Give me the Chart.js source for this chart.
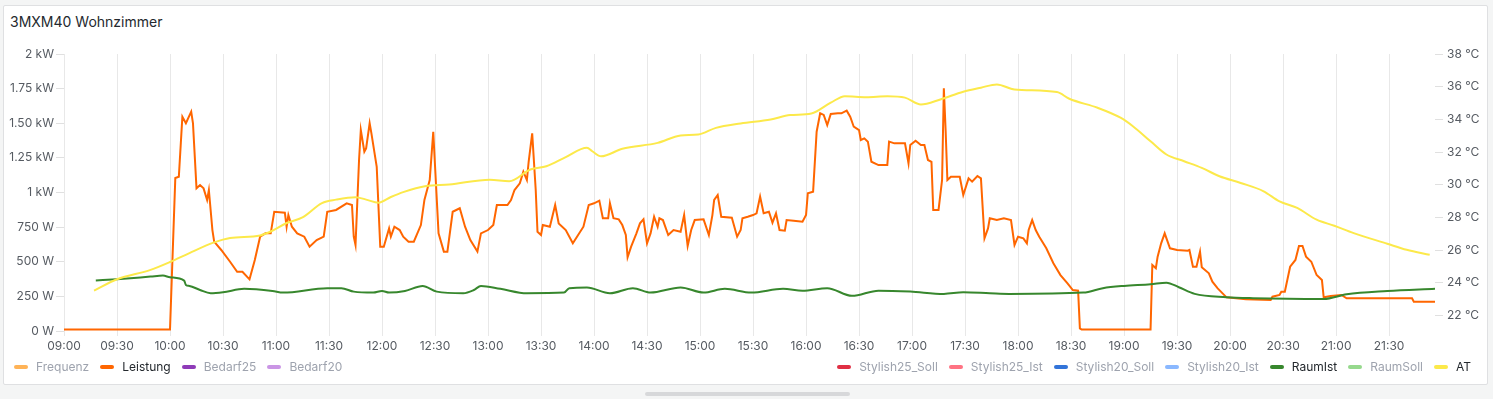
<!DOCTYPE html>
<html>
<head>
<meta charset="utf-8">
<title>3MXM40 Wohnzimmer</title>
<script src="https://cdn.jsdelivr.net/npm/chart.js@4"></script>
<style>
  body { margin: 0; width: 1493px; height: 399px; overflow: hidden; position: relative; background: #f4f5f5; font-family: Inter, "Noto Sans", sans-serif; }
  .panel { position: absolute; left: 3px; top: 5px; width: 1483px; height: 378px; background: #fff; border: 1px solid #dfe0e2; border-radius: 2px; }
  .title { position: absolute; left: 10px; top: 13px; font-size: 14px; font-weight: 400; color: #24292e; }
  #wrap { position: absolute; left: 0; top: 0; }
  #legend { position: absolute; left: 14px; right: 22px; top: 359px; display: flex; justify-content: space-between; font-size: 12px; line-height: 16px; }
  .grp { display: flex; }
  .item { display: flex; align-items: center; margin-right: 11px; color: #24292e; }
  .grp:last-child .item:last-child { margin-right: 0; }
  .item.off { color: #9ea3ae; }
  .bar { width: 14px; height: 4px; border-radius: 2px; margin-right: 8px; }
  .scroll { position: absolute; left: 645px; top: 392px; width: 205px; height: 4px; border-radius: 2px; background: #d7d8da; }
</style>
</head>
<body>
<div class="panel"></div>
<div class="title">3MXM40 Wohnzimmer</div>
<div id="wrap"><canvas id="chart" width="1493" height="399"></canvas></div>
<div id="legend"></div>
<div class="scroll"></div>
<script>
// series shown in the legend (left group first, then right group)
var leftNames = ['Frequenz', 'Leistung', 'Bedarf25', 'Bedarf20'];
var rightNames = ['Stylish25_Soll', 'Stylish25_Ist', 'Stylish20_Soll', 'Stylish20_Ist', 'RaumIst', 'RaumSoll', 'AT'];

// Leistung in W  [time, value]
var leistung = [
  ['09:00',10],['10:00',10],['10:03',1105],['10:05',1114],['10:07',1547],['10:09',1500],['10:12',1584],['10:13',1500],
  ['10:15',1030],['10:17',1054],['10:19',1030],['10:21',946],['10:22',1018],['10:24',729],['10:25',645],['10:29',585],
  ['10:34',500],['10:38',428],['10:41',428],['10:45',373],['10:48',513],['10:51',681],['10:54',705],['10:57',705],
  ['10:59',861],['11:05',854],['11:06',753],['11:07',837],['11:09',753],['11:12',705],['11:16',681],['11:19',609],
  ['11:23',657],['11:27',681],['11:29',861],['11:34',874],['11:40',922],['11:43',910],['11:44',681],['11:45',621],
  ['11:47',1235],['11:48',1451],['11:50',1295],['11:51',1319],['11:53',1500],['11:54',1427],['11:57',1186],['11:59',609],
  ['12:01',609],['12:04',741],['12:05',681],['12:07',753],['12:10',729],['12:12',681],['12:15',645],['12:18',645],
  ['12:20',705],['12:22',765],['12:24',946],['12:27',1090],['12:29',1439],['12:32',705],['12:35',573],['12:37',573],
  ['12:40',861],['12:44',886],['12:47',753],['12:50',657],['12:54',573],['12:56',705],['13:00',729],['13:03',765],
  ['13:05',910],['13:11',910],['13:13',946],['13:15',1018],['13:18',1066],['13:20',1150],['13:22',1090],['13:23',1222],
  ['13:25',1427],['13:27',1018],['13:28',717],['13:30',693],['13:31',765],['13:35',753],['13:38',910],['13:40',777],
  ['13:44',729],['13:48',633],['13:51',693],['13:54',753],['13:57',910],['14:00',922],['14:03',941],['14:05',814],
  ['14:08',814],['14:09',922],['14:11',814],['14:14',806],['14:16',765],['14:18',693],['14:19',532],['14:21',609],
  ['14:24',705],['14:26',777],['14:28',806],['14:30',633],['14:32',705],['14:34',825],['14:36',753],['14:37',814],
  ['14:39',801],['14:42',693],['14:45',729],['14:49',717],['14:51',837],['14:53',614],['14:55',729],['14:57',801],
  ['15:02',806],['15:05',693],['15:07',837],['15:08',946],['15:10',982],['15:12',825],['15:18',818],['15:21',681],
  ['15:23',729],['15:24',814],['15:27',825],['15:30',837],['15:32',850],['15:34',970],['15:36',850],['15:39',861],
  ['15:41',782],['15:43',850],['15:45',729],['15:48',724],['15:49',801],['15:53',796],['15:58',789],['16:00',837],
  ['16:01',994],['16:04',1006],['16:06',1439],['16:08',1572],['16:10',1560],['16:12',1487],['16:14',1567],['16:18',1572],
  ['16:20',1572],['16:23',1591],['16:25',1547],['16:27',1475],['16:30',1451],['16:31',1379],['16:33',1391],['16:35',1367],
  ['16:37',1222],['16:41',1198],['16:46',1198],['16:47',1367],['16:50',1355],['16:56',1355],['16:58',1211],['16:59',1343],
  ['17:02',1374],['17:05',1343],['17:07',1343],['17:09',1235],['17:11',1222],['17:12',874],['17:15',874],['17:17',1090],
  ['17:18',1752],['17:19',1451],['17:20',1090],['17:22',1114],['17:27',1114],['17:29',982],['17:32',1102],['17:34',1078],
  ['17:37',1119],['17:39',1102],['17:41',669],['17:43',741],['17:44',814],['17:48',801],['17:52',814],['17:56',801],
  ['17:58',621],['18:00',681],['18:03',669],['18:05',633],['18:06',729],['18:08',801],['18:10',729],['18:12',681],
  ['18:16',597],['18:20',489],['18:24',404],['18:28',344],['18:31',296],['18:34',291],['18:35',19],['18:36',10],
  ['19:15',10],['19:16',477],['19:18',453],['19:19',537],['19:21',633],['19:23',705],['19:26',597],['19:30',585],
  ['19:36',580],['19:37',585],['19:39',464],['19:41',464],['19:43',573],['19:44',460],['19:48',417],['19:50',356],
  ['19:53',308],['19:58',243],['20:09',229],['20:23',224],['20:24',248],['20:28',260],['20:29',284],['20:31',284],
  ['20:34',464],['20:37',513],['20:39',614],['20:41',614],['20:43',537],['20:46',500],['20:49',404],['20:52',368],
  ['20:53',243],['20:57',253],['21:03',260],['21:06',236],['21:43',236],['21:44',212],['21:56',212]
];

// RaumIst in °C
var raumIst = [
  ['09:18',24.14],['09:30',24.22],['09:49',24.38],['09:56',24.44],['10:00',24.34],['10:08',24.13],['10:09',23.87],['10:11',23.81],
  ['10:17',23.56],['10:23',23.36],['10:30',23.42],['10:42',23.63],['10:58',23.5],['11:04',23.4],['11:29',23.67],['11:37',23.67],
  ['11:44',23.46],['11:55',23.4],['12:00',23.5],['12:04',23.4],['12:13',23.5],['12:23',23.81],['12:31',23.46],['12:46',23.36],
  ['12:52',23.56],['12:56',23.81],['13:07',23.63],['13:22',23.36],['13:43',23.4],['13:46',23.67],['13:56',23.71],['14:09',23.36],
  ['14:22',23.67],['14:32',23.4],['14:49',23.71],['15:02',23.4],['15:14',23.63],['15:29',23.4],['15:47',23.63],['15:58',23.52],
  ['16:12',23.67],['16:26',23.2],['16:41',23.52],['16:59',23.46],['17:18',23.32],['17:29',23.42],['17:44',23.36],['17:55',23.32],
  ['18:37',23.4],['18:48',23.67],['19:00',23.81],['19:15',23.91],['19:24',24.01],['19:31',23.73],['19:40',23.32],['19:58',23.12],
  ['20:13',23.06],['20:53',23.01],['21:06',23.3],['21:29',23.5],['21:56',23.64]
];

// AT (Außentemperatur) in °C
var at = [
  ['09:17',23.52],['09:30',24.22],['09:49',24.79],['10:00',25.27],['10:11',25.82],['10:25',26.47],['10:34',26.74],['10:51',26.9],
  ['10:57',27.14],['11:06',27.66],['11:15',28.0],['11:26',28.88],['11:34',29.09],['11:45',29.24],['11:51',29.09],['11:58',28.9],
  ['12:05',29.25],['12:12',29.55],['12:25',29.92],['12:38',30.01],['13:01',30.31],['13:12',30.21],['13:24',30.93],['13:33',31.13],
  ['13:44',31.69],['13:56',32.26],['13:59',32.05],['14:04',31.74],['14:16',32.2],['14:36',32.56],['14:49',33.01],['14:59',33.07],
  ['15:09',33.48],['15:23',33.75],['15:40',33.99],['15:51',34.26],['16:03',34.36],['16:14',35.02],['16:22',35.42],['16:34',35.36],
  ['16:46',35.42],['16:56',35.33],['17:05',34.91],['17:16',35.22],['17:29',35.69],['17:39',35.94],['17:48',36.14],['17:58',35.83],
  ['18:22',35.67],['18:29',35.26],['18:45',34.71],['18:58',34.1],['19:05',33.58],['19:15',32.66],['19:24',31.85],['19:34',31.44],
  ['19:44',31.03],['19:54',30.52],['20:06',30.11],['20:19',29.6],['20:28',28.98],['20:38',28.58],['20:49',27.86],['20:59',27.49],
  ['21:10',27.04],['21:29',26.39],['21:40',26.02],['21:53',25.71]
];

// tick labels
var timeTicks = ['09:00','09:30','10:00','10:30','11:00','11:30','12:00','12:30','13:00','13:30','14:00','14:30','15:00',
  '15:30','16:00','16:30','17:00','17:30','18:00','18:30','19:00','19:30','20:00','20:30','21:00','21:30'];
var powerTicks = [0, 250, 500, 750, 1000, 1250, 1500, 1750, 2000];
var powerTickLabels = ['0 W','250 W','500 W','750 W','1 kW','1.25 kW','1.50 kW','1.75 kW','2 kW'];
var tempTicks = [22, 24, 26, 28, 30, 32, 34, 36, 38];
var tempTickLabels = ['22 °C','24 °C','26 °C','28 °C','30 °C','32 °C','34 °C','36 °C','38 °C'];

var colors = {
  Frequenz: '#FFB357', Leistung: '#FF6600', Bedarf25: '#8F3BB8', Bedarf20: '#CA95E5',
  Stylish25_Soll: '#E02F44', Stylish25_Ist: '#FF7383', Stylish20_Soll: '#3274D9', Stylish20_Ist: '#8AB8FF',
  RaumIst: '#37872D', RaumSoll: '#96D98D', AT: '#FCE94A'
};

function toMin(t) { var p = t.split(':'); return (+p[0]) * 60 + (+p[1]); }
function pts(arr) { return arr.map(function (d) { return { x: toMin(d[0]), y: d[1] }; }); }

var visible = { Leistung: leistung, RaumIst: raumIst, AT: at };
var axisOf = { Leistung: 'yW', RaumIst: 'yC', AT: 'yC' };
var allNames = leftNames.concat(rightNames);

var datasets = allNames.map(function (n, i) {
  return {
    label: n,
    data: visible[n] ? pts(visible[n]) : [],
    hidden: !visible[n],
    yAxisID: axisOf[n] || 'yW',
    borderColor: colors[n],
    backgroundColor: colors[n],
    borderWidth: 2,
    pointRadius: 0,
    tension: 0,
    cubicInterpolationMode: n === 'Leistung' ? 'default' : 'monotone',
    order: allNames.length - i
  };
});

var tickFont = { family: 'Inter', size: 12 };
var tickColor = '#565b62';

var myChart = new Chart(document.getElementById('chart').getContext('2d'), {
  type: 'line',
  data: { datasets: datasets },
  options: {
    responsive: false,
    animation: false,
    layout: { padding: { top: 54, left: 0, right: 0, bottom: 0 } },
    plugins: { legend: { display: false }, tooltip: { enabled: false } },
    scales: {
      x: {
        type: 'linear',
        min: toMin('09:00'),
        max: toMin('21:56'),
        afterBuildTicks: function (s) { s.ticks = timeTicks.map(function (t) { return { value: toMin(t) }; }); },
        afterFit: function (s) { s.height = 68; },
        ticks: {
          autoSkip: false, maxRotation: 0, padding: 3, color: tickColor, font: tickFont,
          callback: function (v, i) { return timeTicks[i]; }
        },
        grid: { color: 'rgba(0,0,0,0.09)', tickLength: 5, tickColor: 'rgba(0,0,0,0.09)' },
        border: { display: false }
      },
      yW: {
        position: 'left',
        min: 0, max: 2000,
        afterBuildTicks: function (s) { s.ticks = powerTicks.map(function (v) { return { value: v }; }); },
        afterFit: function (s) { s.width = 64; },
        ticks: { padding: 2, color: tickColor, font: tickFont, callback: function (v, i) { return powerTickLabels[i]; } },
        grid: { drawOnChartArea: false, tickLength: 8, tickColor: 'rgba(0,0,0,0.12)' },
        border: { display: false }
      },
      yC: {
        position: 'right',
        min: 21.05, max: 38,
        afterBuildTicks: function (s) { s.ticks = tempTicks.map(function (v) { return { value: v }; }); },
        afterFit: function (s) { s.width = 58; },
        ticks: { padding: 4, color: tickColor, font: tickFont, callback: function (v, i) { return tempTickLabels[i]; } },
        grid: { drawOnChartArea: false, tickLength: 8, tickColor: 'rgba(0,0,0,0.12)' },
        border: { display: false }
      }
    }
  }
});

// legend in two groups, like the panel
var legend = document.getElementById('legend');
[leftNames, rightNames].forEach(function (group) {
  var g = document.createElement('div');
  g.className = 'grp';
  group.forEach(function (n) {
    var it = document.createElement('div');
    it.className = 'item' + (visible[n] ? '' : ' off');
    var b = document.createElement('span');
    b.className = 'bar';
    b.style.background = colors[n];
    it.appendChild(b);
    it.appendChild(document.createTextNode(n));
    g.appendChild(it);
  });
  legend.appendChild(g);
});
</script>
</body>
</html>
